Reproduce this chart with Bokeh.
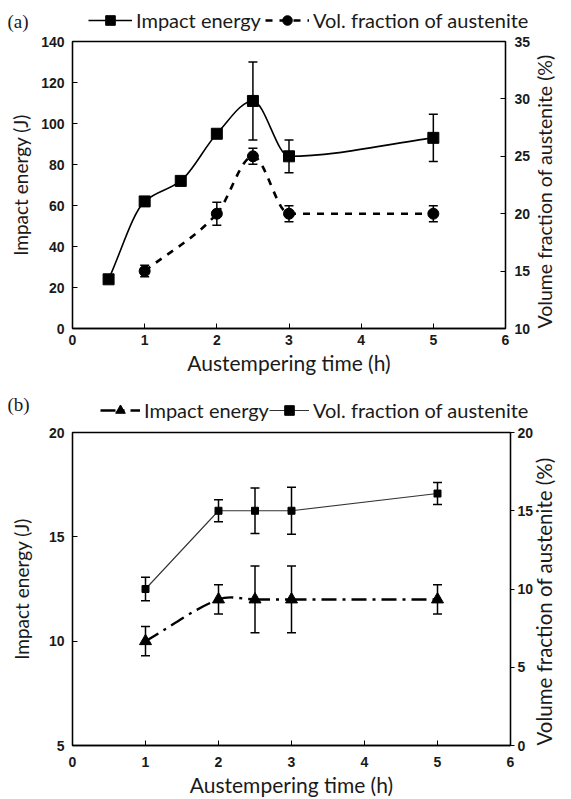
import math
import numpy as np
from bokeh.plotting import figure
from bokeh.models import (Range1d, LinearAxis, Whisker, ColumnDataSource, Legend,
                          LegendItem, Label, FixedTicker, TeeHead)
from bokeh.embed import file_html
from bokeh.resources import INLINE

# ---------------- data: panel (a) ----------------
a_time_ie = [0.5, 1, 1.5, 2, 2.5, 3, 5]
a_impact = [24, 62, 72, 95, 111, 84, 93]
a_impact_err = [0, 0, 0, 0, 19, 8, 11.5]
a_time_vf = [1, 2, 2.5, 3, 5]
a_vol = [15, 20, 25, 20, 20]
a_vol_err = [0.5, 1.0, 0.7, 0.7, 0.7]

# ---------------- data: panel (b) ----------------
b_time = [1, 2, 2.5, 3, 5]
b_impact = [10, 12, 12, 12, 12]
b_impact_err = [0.7, 0.7, 1.6, 1.6, 0.7]
b_vol = [10, 15, 15, 15, 16.1]
b_vol_err = [0.75, 0.7, 1.45, 1.5, 0.7]

x_ticks = [0, 1, 2, 3, 4, 5, 6]
a_left_ticks = [0, 20, 40, 60, 80, 100, 120, 140]
a_right_ticks = [10, 15, 20, 25, 30, 35]
b_left_ticks = [5, 10, 15, 20]
b_right_ticks = [0, 5, 10, 15, 20]

legend_labels = ["Impact energy", "Vol. fraction of austenite"]
x_title = "Austempering time (h)"
left_title = "Impact energy (J)"
right_title = "Volume fraction of austenite (%)"

TXT = "#1a1a1a"
LABEL_FONT = "Lato"
TICK_FONT = "Liberation Sans"

# line / marker styles
STY_A_IE = dict(line_color="black", line_width=1.6)
STY_A_VF = dict(line_color="black", line_width=2.6, line_dash="7 7")
STY_B_IE = dict(line_color="black", line_width=2.4, line_dash="15 6 3 6")
STY_B_VF = dict(line_color="#333333", line_width=1.1)


def smooth_src(xs, ys, monotone=False):
    """Bezier segments through the data points (Hermite tangents -> cubic Bezier)."""
    xs = np.asarray(xs, float)
    ys = np.asarray(ys, float)
    n = len(xs)
    h = np.diff(xs)
    d = np.diff(ys) / h
    m = np.zeros(n)
    m[0], m[-1] = d[0], d[-1]
    for i in range(1, n - 1):
        if monotone:
            if d[i - 1] * d[i] <= 0:
                m[i] = 0.0
            else:
                w1 = 2 * h[i] + h[i - 1]
                w2 = h[i] + 2 * h[i - 1]
                m[i] = (w1 + w2) / (w1 / d[i - 1] + w2 / d[i])
        else:
            m[i] = (ys[i + 1] - ys[i - 1]) / (xs[i + 1] - xs[i - 1])
    return ColumnDataSource(dict(
        x0=xs[:-1], y0=ys[:-1], x1=xs[1:], y1=ys[1:],
        cx0=xs[:-1] + h / 3, cy0=ys[:-1] + m[:-1] * h / 3,
        cx1=xs[1:] - h / 3, cy1=ys[1:] - m[1:] * h / 3))


def err_src(xs, ys, es):
    xx, up, lo = [], [], []
    for x, y, e in zip(xs, ys, es):
        if e > 0:
            xx.append(x)
            up.append(y + e)
            lo.append(y - e)
    return ColumnDataSource(dict(x=xx, upper=up, lower=lo))


def style_axis(ax, tick_in=5, tick_out=0, label_size="19px"):
    ax.major_tick_in = tick_in
    ax.major_tick_out = tick_out
    ax.minor_tick_line_color = None
    ax.axis_line_color = "black"
    ax.axis_line_width = 1.3
    ax.major_tick_line_color = "black"
    ax.major_label_text_font = TICK_FONT
    ax.major_label_text_font_style = "bold"
    ax.major_label_text_font_size = "14px"
    ax.major_label_text_color = TXT
    ax.axis_label_text_font = LABEL_FONT
    ax.axis_label_text_font_style = "normal"
    ax.axis_label_text_font_size = label_size
    ax.axis_label_text_color = TXT


def upright_right_label(ax):
    # read the right-hand axis title bottom-to-top, as in the original
    if "axis_label_align" in ax.properties():
        ax.axis_label_orientation = math.pi / 2
        ax.axis_label_align = "start"


def whisker(p, src, range_name="default", size=9):
    w = Whisker(base="x", upper="upper", lower="lower", source=src,
                line_color="black", line_width=1.5,
                upper_head=TeeHead(size=size, line_color="black", line_width=1.5),
                lower_head=TeeHead(size=size, line_color="black", line_width=1.5))
    if range_name != "default":
        w.y_range_name = range_name
    p.add_layout(w)


def base_fig(h, yr, yr2, borders):
    l, r, t, b = borders
    p = figure(width=571, height=h, x_range=Range1d(0, 6), y_range=Range1d(*yr),
               output_backend="svg", toolbar_location=None,
               min_border_left=l, min_border_right=r, min_border_top=t, min_border_bottom=b)
    p.extra_y_ranges = {"vf": Range1d(*yr2)}
    p.xgrid.visible = False
    p.ygrid.visible = False
    p.outline_line_color = "black"
    p.outline_line_width = 1.3
    p.outline_line_alpha = 1
    p.background_fill_color = "white"
    p.border_fill_color = "white"
    return p


def header_fig(h, tag, tag_y, styles, markers, legend_loc, glyph_w, spacing):
    """Strip above a panel holding the panel tag and the legend (legend proxies only)."""
    hf = figure(width=571, height=h, x_range=Range1d(0, 571), y_range=Range1d(0, h),
                output_backend="svg", toolbar_location=None, min_border=0,
                min_border_left=0, min_border_right=0, min_border_top=0, min_border_bottom=0,
                x_axis_location=None, y_axis_location=None)
    hf.xgrid.visible = False
    hf.ygrid.visible = False
    hf.outline_line_color = None
    hf.background_fill_color = "white"
    hf.border_fill_color = "white"
    items = []
    for lab, sty, (mk, ms) in zip(legend_labels, styles, markers):
        src = ColumnDataSource(dict(x=[np.nan], y=[np.nan]))
        ln = hf.line(x="x", y="y", source=src, **sty)
        sc = hf.scatter(x="x", y="y", source=src, marker=mk, size=ms, color="black")
        items.append(LegendItem(label=lab, renderers=[ln, sc]))
    leg = Legend(items=items, orientation="horizontal", location=legend_loc,
                 border_line_alpha=0, background_fill_alpha=0, padding=0, margin=0,
                 spacing=spacing, glyph_width=glyph_w, glyph_height=24, label_height=24,
                 label_standoff=4, label_text_font=LABEL_FONT, label_text_font_size="20px",
                 label_text_color=TXT)
    hf.add_layout(leg)
    hf.add_layout(Label(x=7, y=tag_y, x_units="screen", y_units="screen", text=tag,
                        text_font="Liberation Serif", text_font_size="19px",
                        text_baseline="middle", text_color=TXT))
    return hf


# ================= panel (a) =================
ha = header_fig(32, "(a)", 11, [STY_A_IE, STY_A_VF],
                [("square", 11), ("circle", 11)], (88, 0), 44, 4)

pa = base_fig(353, (0, 140), (10, 35), (72, 66, 9, 57))

pa.bezier(x0="x0", y0="y0", x1="x1", y1="y1", cx0="cx0", cy0="cy0",
          cx1="cx1", cy1="cy1", source=smooth_src(a_time_ie, a_impact, monotone=True),
          **STY_A_IE)
pa.scatter(a_time_ie, a_impact, marker="square", size=11, color="black")
whisker(pa, err_src(a_time_ie, a_impact, a_impact_err))

pa.bezier(x0="x0", y0="y0", x1="x1", y1="y1", cx0="cx0", cy0="cy0",
          cx1="cx1", cy1="cy1", source=smooth_src(a_time_vf, a_vol, monotone=True),
          y_range_name="vf", **STY_A_VF)
pa.scatter(a_time_vf, a_vol, marker="circle", size=11, color="black", y_range_name="vf")
whisker(pa, err_src(a_time_vf, a_vol, a_vol_err), "vf")

pa.xaxis.ticker = FixedTicker(ticks=x_ticks)
pa.yaxis.ticker = FixedTicker(ticks=a_left_ticks)
pa.xaxis.axis_label = x_title
pa.yaxis.axis_label = left_title
ra = LinearAxis(y_range_name="vf", ticker=FixedTicker(ticks=a_right_ticks),
                axis_label=right_title)
pa.add_layout(ra, "right")
style_axis(pa.xaxis[0], label_size="21px")
style_axis(pa.yaxis[0])
style_axis(ra, label_size="19.5px")
upright_right_label(ra)
pa.xaxis.major_label_standoff = 6
pa.xaxis.axis_label_standoff = 2
pa.yaxis.major_label_standoff = 8
pa.yaxis.axis_label_standoff = 6
ra.major_label_standoff = 9
ra.axis_label_standoff = 11

# ================= panel (b) =================
hb = header_fig(38, "(b)", 19, [STY_B_IE, STY_B_VF],
                [("triangle", 12), ("square", 7)], (100, 1), 40, 0)

pb = base_fig(376, (5, 20), (0, 20), (72, 55, 9, 51))

pb.bezier(x0="x0", y0="y0", x1="x1", y1="y1", cx0="cx0", cy0="cy0",
          cx1="cx1", cy1="cy1", source=smooth_src(b_time, b_impact), **STY_B_IE)
pb.scatter(b_time, b_impact, marker="triangle", size=12, color="black")
whisker(pb, err_src(b_time, b_impact, b_impact_err))

pb.line(b_time, b_vol, y_range_name="vf", **STY_B_VF)
pb.scatter(b_time, b_vol, marker="square", size=7, color="black", y_range_name="vf")
whisker(pb, err_src(b_time, b_vol, b_vol_err), "vf")

pb.xaxis.ticker = FixedTicker(ticks=x_ticks)
pb.yaxis.ticker = FixedTicker(ticks=b_left_ticks)
pb.xaxis.axis_label = x_title
pb.yaxis.axis_label = left_title
rb = LinearAxis(y_range_name="vf", ticker=FixedTicker(ticks=b_right_ticks),
                axis_label=right_title)
pb.add_layout(rb, "right")
style_axis(pb.xaxis[0], label_size="21px")
style_axis(pb.yaxis[0])
style_axis(rb, tick_in=0, tick_out=4, label_size="20.5px")
upright_right_label(rb)
pb.xaxis.major_label_standoff = 11
pb.xaxis.axis_label_standoff = 2
pb.yaxis.major_label_standoff = 8
pb.yaxis.axis_label_standoff = 13
rb.major_label_standoff = 3
rb.axis_label_standoff = 8

open("out.html", "w").write(file_html([ha, pa, hb, pb], INLINE))
